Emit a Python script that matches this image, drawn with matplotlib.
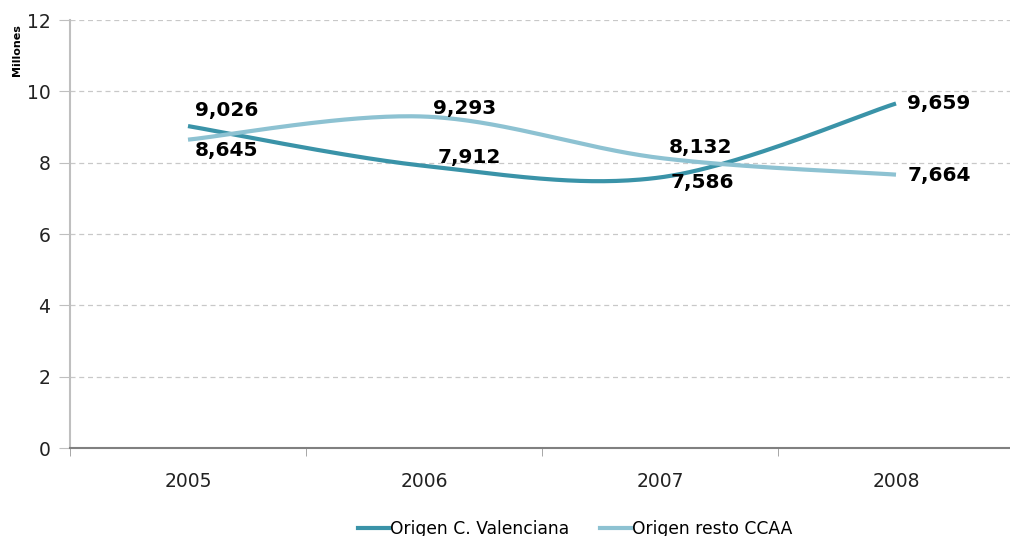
import numpy as np
import matplotlib
matplotlib.use("Agg")
import matplotlib.pyplot as plt
from matplotlib.lines import Line2D

years = ["2005", "2006", "2007", "2008"]
valenciana = [9.026, 7.912, 7.586, 9.659]
resto = [8.645, 9.293, 8.132, 7.664]
series_names = ["Origen C. Valenciana", "Origen resto CCAA"]
y_ticks = [0, 2, 4, 6, 8, 10, 12]

# label pixel offsets (dx, dy) relative to each point
val_offsets = [(39, 16), (45, 8), (42, -5), (43, 0)]
res_offsets = [(39, -11), (41, 8), (41, 10), (43, -1)]

dark = "#3A93A8"
light = "#8DC2D2"


def smooth(xs, ys, n=60):
    xs = np.asarray(xs, float)
    ys = np.asarray(ys, float)
    m = len(xs)
    px, py = [], []
    for i in range(m - 1):
        i0 = max(i - 1, 0)
        i3 = min(i + 2, m - 1)
        p0 = np.array([xs[i0], ys[i0]])
        p1 = np.array([xs[i], ys[i]])
        p2 = np.array([xs[i + 1], ys[i + 1]])
        p3 = np.array([xs[i3], ys[i3]])
        c1 = p1 + (p2 - p0) / 6.0
        c2 = p2 - (p3 - p1) / 6.0
        t = np.linspace(0, 1, n)[:, None]
        b = ((1 - t) ** 3) * p1 + 3 * ((1 - t) ** 2) * t * c1 + 3 * (1 - t) * t ** 2 * c2 + t ** 3 * p2
        px.extend(b[:, 0])
        py.extend(b[:, 1])
    return np.array(px), np.array(py)


fig = plt.figure(figsize=(10.10, 5.36), dpi=100)
ax = fig.add_axes([70 / 1010, 1 - 448 / 536, 944 / 1010, 428 / 536])

x = np.arange(len(years))
for vals, col in [(valenciana, dark), (resto, light)]:
    sx, sy = smooth(x, vals)
    ax.plot(sx, sy, color=col, lw=3, solid_capstyle="butt", zorder=3)

for vals, offs in [(valenciana, val_offsets), (resto, res_offsets)]:
    for xi, v, (dx, dy) in zip(x, vals, offs):
        ax.annotate(f"{v:.3f}".replace(".", ","), (xi, v), xytext=(dx, dy),
                    textcoords="offset pixels", ha="center", va="center",
                    fontsize=14.5, fontweight="bold", color="black", zorder=4)

ax.set_xlim(-0.5, 3.5)
ax.set_ylim(0, 12)
ax.set_yticks(y_ticks)
ax.set_yticklabels([str(t) for t in y_ticks], fontsize=13.5, color="#222222")
ax.set_xticks(x)
ax.set_xticklabels(years, fontsize=13.5, color="#222222")
ax.set_xticks(np.arange(-0.5, 4, 1), minor=True)
ax.tick_params(axis="x", which="major", length=0, pad=17)
ax.tick_params(axis="x", which="minor", length=6, color="#999999", direction="out")
ax.tick_params(axis="y", length=8, color="#BFBFBF", direction="out", pad=6)

ax.grid(axis="y", color="#C8C8C8", linestyle=(0, (4, 3)), lw=0.9)
ax.set_axisbelow(True)
for s in ["top", "right"]:
    ax.spines[s].set_visible(False)
ax.spines["left"].set_color("#BFBFBF")
ax.spines["left"].set_linewidth(1.5)
ax.spines["bottom"].set_color("#808080")
ax.spines["bottom"].set_linewidth(1.5)

fig.text(17 / 1010, 1 - 50 / 536, "Millones", rotation=90, ha="center", va="center",
         fontsize=8, fontweight="bold")

handles = [Line2D([0], [0], color=dark, lw=3), Line2D([0], [0], color=light, lw=3)]
fig.legend(handles, series_names, loc="center", bbox_to_anchor=(575 / 1010, 1 - 529 / 536),
           ncol=2, frameon=False, fontsize=12.3, handlelength=1.8, handletextpad=0.08,
           columnspacing=1.8)

fig.savefig("out.png", dpi=100)
